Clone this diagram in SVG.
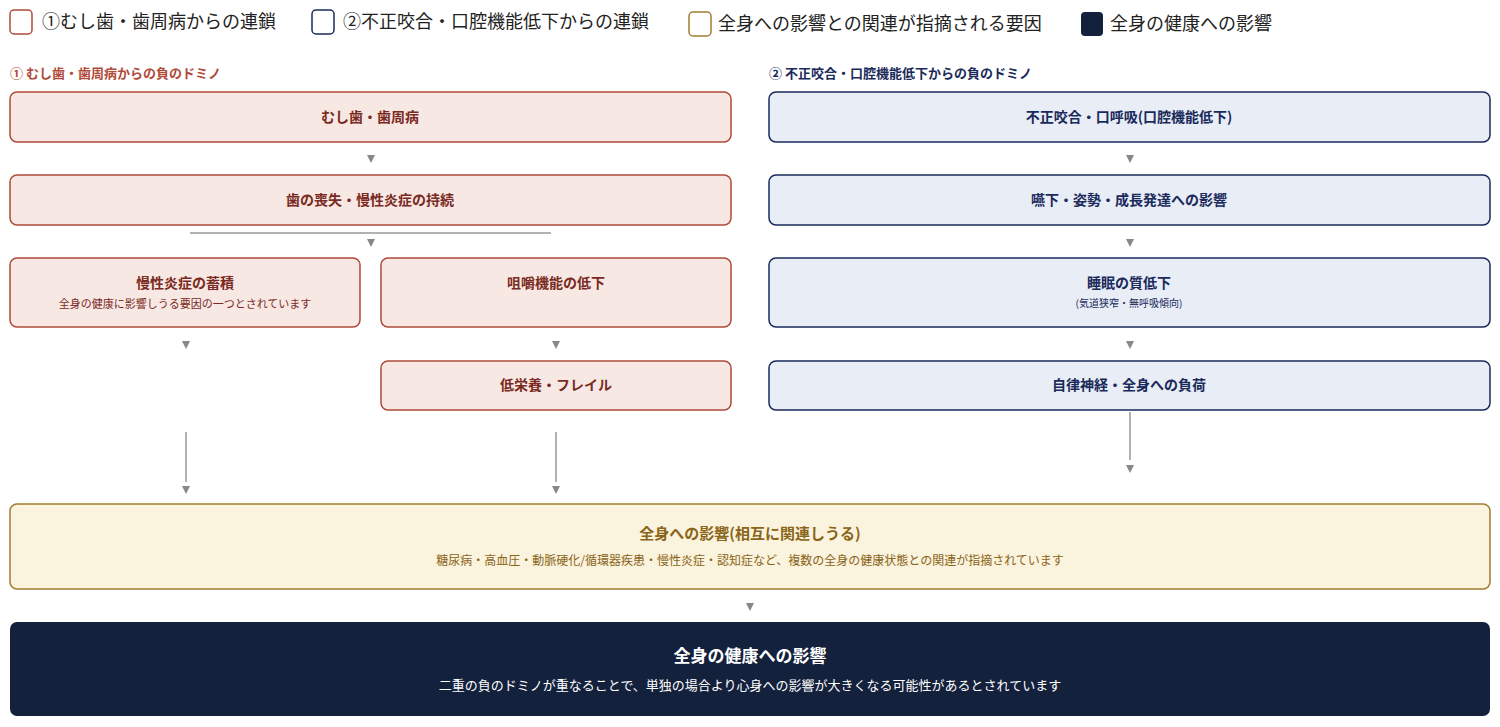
<svg xmlns="http://www.w3.org/2000/svg" width="1500" height="727" viewBox="0 0 1500 727">
<style>
text{font-family:"Noto Sans CJK JP","Noto Sans",sans-serif}
.r{fill:#f7e8e4;stroke:#b04a3a;stroke-width:1.5}
.n{fill:#e8edf6;stroke:#1a2a5a;stroke-width:1.5}
.g{fill:#faf3dd;stroke:#a07d30;stroke-width:1.5}
.d{fill:#14213d}
.rt{fill:#7a2a1e;font-size:14px;font-weight:bold;text-anchor:middle}
.nt{fill:#1a2a5a;font-size:14px;font-weight:bold;text-anchor:middle}
.rs{fill:#7a2a1e;font-size:11px;text-anchor:middle}
.ns{fill:#1a2a5a;font-size:10px;text-anchor:middle}
.lg{fill:#222;font-size:18px}
.ln{stroke:#999;stroke-width:1.5;fill:none}
.ah{fill:#888}
</style>
<g id="legend">
<rect x="10" y="10" width="22" height="24" rx="4" fill="#fff" stroke="#b04a3a" stroke-width="1.5"/><text class="lg" x="42" y="28">①むし歯・歯周病からの連鎖</text>
<rect x="312" y="10" width="22" height="24" rx="4" fill="#fff" stroke="#1a2a5a" stroke-width="1.5"/><text class="lg" x="343" y="28">②不正咬合・口腔機能低下からの連鎖</text>
<rect x="689" y="12" width="22" height="24" rx="4" fill="#fff" stroke="#a07d30" stroke-width="1.5"/><text class="lg" x="718" y="30">全身への影響との関連が指摘される要因</text>
<rect x="1081" y="12" width="22" height="24" rx="4" fill="#14213d"/><text class="lg" x="1110" y="30">全身の健康への影響</text>
</g>
<text x="10" y="78" fill="#b04a3a" font-size="13" font-weight="bold">① むし歯・歯周病からの負のドミノ</text>
<text x="769" y="78" fill="#1a2a5a" font-size="13" font-weight="bold">② 不正咬合・口腔機能低下からの負のドミノ</text>
<g id="connectors">
<polygon class="ah" points="367,155 375,155 371,163"/>
<line class="ln" x1="190" y1="233" x2="551" y2="233"/>
<polygon class="ah" points="367,239 375,239 371,247"/>
<polygon class="ah" points="182,341 190,341 186,349"/>
<polygon class="ah" points="552,341 560,341 556,349"/>
<line class="ln" x1="186" y1="432" x2="186" y2="482"/><polygon class="ah" points="182,486 190,486 186,494"/>
<line class="ln" x1="556" y1="432" x2="556" y2="482"/><polygon class="ah" points="552,486 560,486 556,494"/>
<polygon class="ah" points="1126,155 1134,155 1130,163"/>
<polygon class="ah" points="1126,239 1134,239 1130,247"/>
<polygon class="ah" points="1126,341 1134,341 1130,349"/>
<line class="ln" x1="1130" y1="412" x2="1130" y2="460"/><polygon class="ah" points="1126,465 1134,465 1130,473"/>
<polygon class="ah" points="746,603 754,603 750,611"/>
</g>
<g id="n1"><rect class="r" x="10" y="92" width="721" height="50" rx="7"/><text class="rt" x="370" y="122">むし歯・歯周病</text></g>
<g id="n2"><rect class="r" x="10" y="175" width="721" height="50" rx="7"/><text class="rt" x="370" y="205">歯の喪失・慢性炎症の持続</text></g>
<g id="n3"><rect class="r" x="10" y="258" width="350" height="69" rx="7"/><text class="rt" x="185" y="288">慢性炎症の蓄積</text><text class="rs" x="185" y="308">全身の健康に影響しうる要因の一つとされています</text></g>
<g id="n4"><rect class="r" x="381" y="258" width="350" height="69" rx="7"/><text class="rt" x="556" y="288">咀嚼機能の低下</text></g>
<g id="n5"><rect class="r" x="381" y="361" width="350" height="49" rx="7"/><text class="rt" x="556" y="390">低栄養・フレイル</text></g>
<g id="m1"><rect class="n" x="769" y="92" width="721" height="50" rx="7"/><text class="nt" x="1129" y="122">不正咬合・口呼吸(口腔機能低下)</text></g>
<g id="m2"><rect class="n" x="769" y="175" width="721" height="50" rx="7"/><text class="nt" x="1129" y="205">嚥下・姿勢・成長発達への影響</text></g>
<g id="m3"><rect class="n" x="769" y="258" width="721" height="69" rx="7"/><text class="nt" x="1129" y="288">睡眠の質低下</text><text class="ns" x="1129" y="307">(気道狭窄・無呼吸傾向)</text></g>
<g id="m4"><rect class="n" x="769" y="361" width="721" height="49" rx="7"/><text class="nt" x="1129" y="390">自律神経・全身への負荷</text></g>
<g id="g1"><rect class="g" x="10" y="504" width="1480" height="85" rx="7"/><text x="750" y="539" fill="#8a6418" font-size="15" font-weight="bold" text-anchor="middle">全身への影響(相互に関連しうる)</text><text x="750" y="565" fill="#8a6418" font-size="12" text-anchor="middle">糖尿病・高血圧・動脈硬化/循環器疾患・慢性炎症・認知症など、複数の全身の健康状態との関連が指摘されています</text></g>
<g id="d1"><rect class="d" x="10" y="622" width="1480" height="94" rx="7"/><text x="750" y="662" fill="#fff" font-size="17" font-weight="bold" text-anchor="middle">全身の健康への影響</text><text x="750" y="690" fill="#fff" font-size="13" text-anchor="middle">二重の負のドミノが重なることで、単独の場合より心身への影響が大きくなる可能性があるとされています</text></g>
</svg>
